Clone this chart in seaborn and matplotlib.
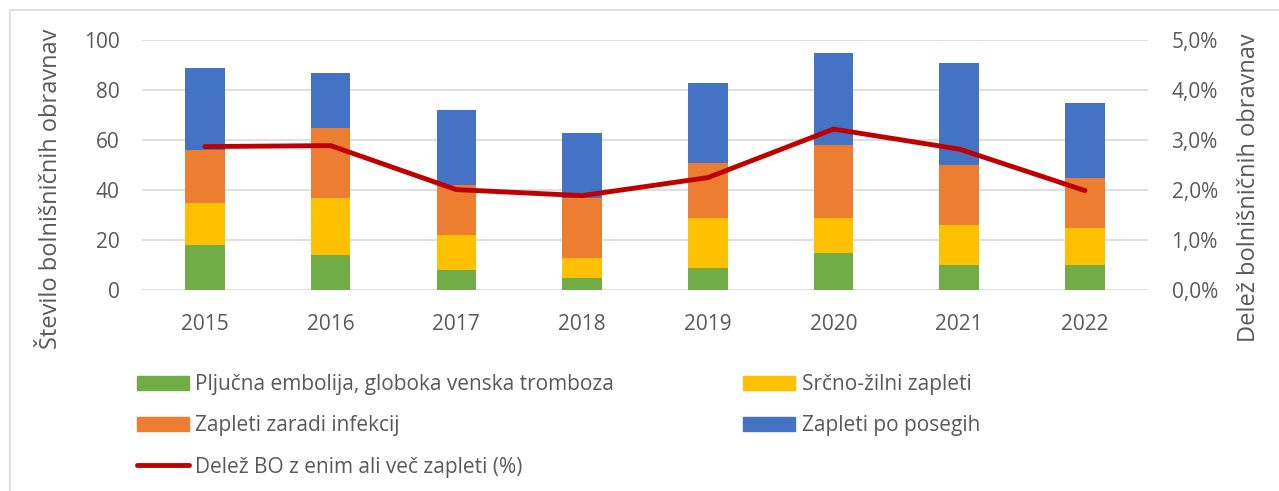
import numpy as np
import pandas as pd
import matplotlib
matplotlib.use("Agg")
import matplotlib.pyplot as plt
import seaborn as sns
from matplotlib.patches import Rectangle, Patch
from matplotlib.lines import Line2D
from matplotlib.ticker import FuncFormatter

# data
years = ["2015", "2016", "2017", "2018", "2019", "2020", "2021", "2022"]
embolija = [18, 14, 8, 5, 9, 15, 10, 10]
srcno_zilni = [17, 23, 14, 8, 20, 14, 16, 15]
infekcije = [21, 28, 20, 24, 22, 29, 24, 20]
po_posegih = [33, 22, 30, 26, 32, 37, 41, 30]
delez = [2.87, 2.89, 2.01, 1.89, 2.25, 3.22, 2.82, 1.99]

labels = ["Pljučna embolija, globoka venska tromboza", "Srčno-žilni zapleti",
          "Zapleti zaradi infekcij", "Zapleti po posegih"]
colors = ["#70AD47", "#FFC000", "#ED7D31", "#4472C4"]
line_label = "Delež BO z enim ali več zapleti (%)"
line_color = "#C00000"
text_color = "#595959"

sns.set_theme(style="white")
plt.rcParams["font.family"] = ["Open Sans", "DejaVu Sans"]

df = pd.DataFrame({"leto": years, "a": embolija, "b": srcno_zilni,
                   "c": infekcije, "d": po_posegih})
stack = df[["a", "b", "c", "d"]].cumsum(axis=1)

fig = plt.figure(figsize=(12.79, 4.91), dpi=100)
ax = fig.add_axes([0.111, 0.409, 0.7865, 0.5095])

# draw cumulative totals from the top down so the stack shows
for col, color in zip(["d", "c", "b", "a"], colors[::-1]):
    sns.barplot(x=df["leto"], y=stack[col], color=color, width=0.315,
                saturation=1, ax=ax, edgecolor="none")

ax.set_ylim(0, 100)
ax.set_yticks(range(0, 101, 20))
ax.set_xlim(-0.5, 7.5)
ax.grid(axis="y", color="#D9D9D9", linewidth=1.2)
ax.set_axisbelow(True)
for s in ax.spines.values():
    s.set_visible(False)
ax.tick_params(axis="both", length=0, labelsize=15, colors=text_color)
ax.tick_params(axis="x", pad=17)
ax.tick_params(axis="y", pad=16)
ax.set_xlabel("")
ax.set_ylabel("Število bolnišničnih obravnav", fontsize=17, color=text_color)
ax.yaxis.set_label_coords(-0.079, 0.404)

ax2 = ax.twinx()
sns.lineplot(x=np.arange(len(years)), y=delez, color=line_color, linewidth=3.5,
             ax=ax2, solid_capstyle="round")
ax2.set_ylim(0, 5)
ax2.set_yticks(np.arange(0, 5.01, 1))
ax2.yaxis.set_major_formatter(FuncFormatter(lambda v, p: f"{v:.1f}%".replace(".", ",")))
for s in ax2.spines.values():
    s.set_visible(False)
ax2.tick_params(axis="y", length=0, labelsize=15, colors=text_color, pad=17)
ax2.set_ylabel("Delež bolnišničnih obravnav", fontsize=17, color=text_color)
ax2.yaxis.set_label_coords(1.089, 0.41)
ax2.set_xlim(-0.5, 7.5)

handles = [Patch(color=colors[0]), Patch(color=colors[2]),
           Line2D([], [], color=line_color, linewidth=3.5, solid_capstyle="round"),
           Patch(color=colors[1]), Patch(color=colors[3])]
names = [labels[0], labels[2], line_label, labels[1], labels[3]]
leg = fig.legend(handles, names, ncol=2, loc="upper left",
                 bbox_to_anchor=(137 / 1279, 0.238), frameon=False, fontsize=15,
                 borderpad=0, borderaxespad=0,
                 handlelength=2.5, handleheight=0.7, handletextpad=0.3,
                 labelspacing=0.97, columnspacing=6.2)
for t in leg.get_texts():
    t.set_color(text_color)

fig.patches.append(Rectangle((10 / 1279, -0.01), 1.02, 1 - 10 / 491 + 0.01,
                             transform=fig.transFigure, fill=False,
                             edgecolor="#D9D9D9", linewidth=1.2))

fig.savefig("out.png", dpi=100)
